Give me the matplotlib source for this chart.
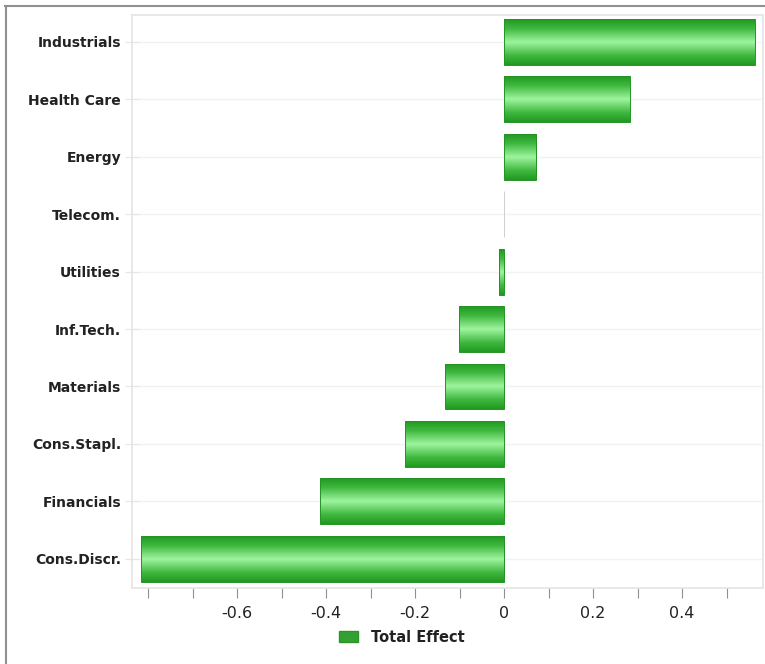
import matplotlib.pyplot as plt
import numpy as np
from matplotlib.colors import LinearSegmentedColormap
from matplotlib.lines import Line2D
from matplotlib.patches import Patch

sectors = ['Industrials', 'Health Care', 'Energy', 'Telecom.', 'Utilities',
           'Inf.Tech.', 'Materials', 'Cons.Stapl.', 'Financials', 'Cons.Discr.']
total_effect = [0.564, 0.283, 0.072, 0.0, -0.011,
                -0.101, -0.133, -0.222, -0.413, -0.816]
tick_values = [-0.8, -0.7, -0.6, -0.5, -0.4, -0.3, -0.2, -0.1, 0.0, 0.1, 0.2, 0.3, 0.4, 0.5]
tick_labels = ['', '', '-0.6', '', '-0.4', '', '-0.2', '', '0', '', '0.2', '', '0.4', '']

plt.rcParams['font.family'] = ['DejaVu Sans']

fig = plt.figure(figsize=(7.65, 6.64), dpi=100)
ax = fig.add_axes([132 / 765, 1 - 588 / 664, (763 - 132) / 765, (588 - 15) / 664])

# outer frame around the chart
fig.add_artist(Line2D([5 / 765, 1.0], [1 - 5.5 / 664, 1 - 5.5 / 664], color='#909090', lw=1.5))
fig.add_artist(Line2D([5.5 / 765, 5.5 / 765], [0.0, 1 - 5.5 / 664], color='#909090', lw=1.5))

y = np.arange(len(sectors))
edge = ['#cfcfcf' if v == 0 else '#259325' for v in total_effect]
bars = ax.barh(y, total_effect, height=0.8, color='none', edgecolor=edge, lw=0.7, zorder=3)

# shaded fill: dark green at the edges, light green through the middle
shade = LinearSegmentedColormap.from_list(
    'shade', [(0, '#229a22'), (0.2, '#3fb83f'), (0.5, '#9ef59e'), (0.8, '#3fb83f'), (1, '#229a22')])
grad = np.linspace(0, 1, 64).reshape(-1, 1)
for bar in bars:
    x0, y0 = bar.get_x(), bar.get_y()
    w, h = bar.get_width(), bar.get_height()
    if w == 0:
        continue
    im = ax.imshow(grad, cmap=shade, aspect='auto', zorder=2,
                   extent=[min(x0, x0 + w), max(x0, x0 + w), y0, y0 + h])
    im.set_clip_path(bar)

ax.set_xlim(-0.836, 0.582)
ax.set_ylim(len(sectors) - 0.49, -0.47)
ax.set_yticks(y)
ax.set_yticklabels(sectors, fontsize=10, fontweight='bold', color='#222222')
ax.set_xticks(tick_values)
ax.set_xticklabels(tick_labels, fontsize=11.5, color='#222222')

ax.set_xticks([-0.8, -0.6, -0.4, -0.2, 0.0, 0.2, 0.4], minor=True)
ax.grid(True, which='minor', axis='x', color='#ececec', lw=1)
ax.grid(True, which='major', axis='y', color='#f2f2f2', lw=1)
ax.grid(False, which='major', axis='x')
ax.tick_params(axis='x', which='major', length=7, color='#909090', pad=6)
ax.tick_params(axis='x', which='minor', length=0)
ax.tick_params(axis='y', length=10, direction='inout', color='#e6e6e6', pad=3)
for s in ax.spines.values():
    s.set_color('#e4e4e4')
    s.set_linewidth(1.2)
ax.set_axisbelow(True)

fig.legend(handles=[Patch(facecolor='#33a033', edgecolor='#2a962a', label='Total Effect')],
           loc='center', bbox_to_anchor=(402 / 765, 1 - 637 / 664), frameon=False,
           prop={'size': 10.5, 'weight': 'bold'}, handlelength=1.3, handleheight=0.8,
           handletextpad=0.9)
for t in fig.legends[0].get_texts():
    t.set_color('#222222')

fig.savefig('out.png', dpi=100)
